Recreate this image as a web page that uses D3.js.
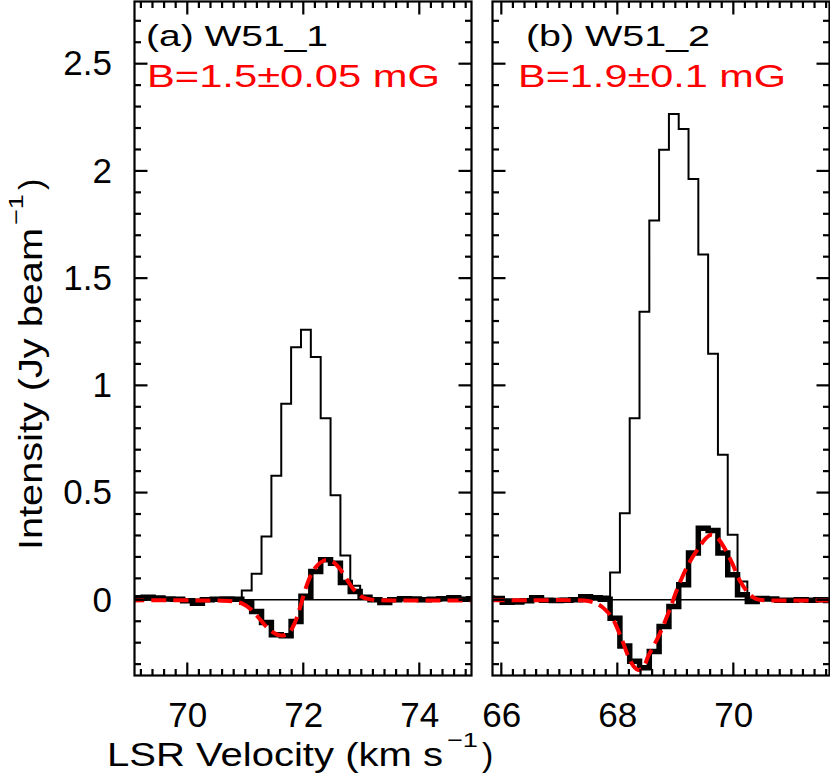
<!DOCTYPE html>
<html><head><meta charset="utf-8">
<script src="https://cdn.jsdelivr.net/npm/d3@7"></script>
<style>body{margin:0;background:#fff}svg{display:block}</style>
</head><body>
<svg id="chart" width="830" height="776"></svg>
<script>
// ---------- DATA ----------
// Panel (a) W51_1 : channel centre velocities (km/s)
const velA = [68.985,69.155,69.325,69.495,69.665,69.835,70.005,70.175,70.345,70.515,70.685,70.855,
  71.025,71.195,71.365,71.535,71.705,71.875,72.045,72.215,72.385,72.555,72.725,72.895,
  73.065,73.235,73.405,73.575,73.745,73.915,74.085,74.255,74.425,74.595,74.765,74.935];
const stokesIA = [0.002,0.003,0.000,0.004,0.002,0.000,0.003,0.001,0.002,0.003,0.004,0.008,
  0.043,0.121,0.295,0.578,0.914,1.178,1.259,1.132,0.847,0.487,0.207,0.065,
  0.005,0.003,0.002,0.001,0.003,0.002,0.000,0.002,0.003,0.001,0.002,0.000];
const stokesVA = [0.008,0.010,0.012,0.008,0.004,0.002,-0.004,-0.016,0.000,0.003,0.004,0.002,
  -0.012,-0.054,-0.106,-0.163,-0.168,-0.101,0.016,0.132,0.187,0.171,0.081,0.039,
  0.012,0.000,-0.013,0.000,0.005,0.004,0.000,0.003,0.005,0.010,0.003,0.005];
const fitVelA = [69.0,69.6,70.2,70.6,70.8,70.95,71.1,71.25,71.4,71.55,71.65,71.75,71.85,71.95,
  72.05,72.15,72.25,72.38,72.5,72.62,72.75,72.88,73.0,73.15,73.5,74.2,75.0];
const fitA = [-0.003,-0.002,-0.003,-0.004,-0.008,-0.018,-0.045,-0.09,-0.135,-0.162,-0.166,-0.155,-0.11,-0.03,
  0.06,0.125,0.163,0.185,0.178,0.148,0.095,0.045,0.015,0.002,-0.003,-0.003,-0.003];

// Panel (b) W51_2
const velB = [65.763,65.932,66.101,66.270,66.439,66.608,66.777,66.946,67.115,67.284,67.453,67.622,67.791,
  67.960,68.129,68.298,68.467,68.636,68.805,68.974,69.143,69.312,69.481,69.650,69.819,69.988,70.157,70.326,
  70.495,70.664,70.833,71.002,71.171,71.340,71.509,71.678];
const stokesIB = [0.004,0.003,0.002,0.001,0.003,0.002,0.004,0.003,0.005,0.006,0.012,0.008,0.015,
  0.127,0.404,0.847,1.343,1.769,2.099,2.265,2.195,1.962,1.610,1.147,0.676,0.303,0.085,0.010,
  0.004,0.003,0.002,0.001,0.002,0.000,0.001,0.002];
const stokesVB = [0.008,0.006,-0.012,-0.010,-0.004,0.010,-0.002,-0.003,-0.002,0.000,0.014,0.010,0.002,
  -0.086,-0.215,-0.286,-0.317,-0.241,-0.124,-0.031,0.070,0.218,0.334,0.323,0.218,0.117,0.023,-0.008,
  0.006,0.004,-0.002,-0.002,0.000,-0.002,0.000,-0.003];
const fitVelB = [65.8,66.5,67.2,67.5,67.66,67.8,67.93,68.08,68.19,68.28,68.36,68.45,68.53,68.62,68.71,
  68.88,69.05,69.22,69.42,69.52,69.62,69.72,69.83,69.98,70.12,70.29,70.40,70.6,71.0,71.7];
const fitB = [-0.002,-0.002,-0.002,-0.006,-0.02,-0.048,-0.093,-0.187,-0.264,-0.31,-0.327,-0.315,-0.264,-0.218,-0.171,
  -0.062,0.062,0.163,0.249,0.285,0.303,0.29,0.249,0.171,0.085,0.023,0.003,-0.003,-0.003,-0.003];

const panelNames = ["(a) W51_1","(b) W51_2"];
const fieldLabels = ["B=1.5\u00b10.05 mG","B=1.9\u00b10.1 mG"];
const xDomains = [[69.09,74.9],[65.848,71.658]];
const yDomain = [-0.353,2.79];
const xMajorA = [70,72,74], xMajorB = [66,68,70];
const yMajor = [0,0.5,1,1.5,2,2.5];
const yLabels = ["0","0.5","1","1.5","2","2.5"];

// ---------- LAYOUT ----------
const FONT = "'Liberation Sans', Arial, sans-serif";
const svg = d3.select("#chart");
const yTop = 1.5, yBot = 675.5;
const panels = [
  {x0:134.5, x1:471.5, vel:velA, I:stokesIA, V:stokesVA, fv:fitVelA, f:fitA, xt:xMajorA, name:panelNames[0], B:fieldLabels[0],
   nameX:146, nameW:182, bX:147, bW:293, dom:xDomains[0], labels:true},
  {x0:492.5, x1:829.5, vel:velB, I:stokesIB, V:stokesVB, fv:fitVelB, f:fitB, xt:xMajorB, name:panelNames[1], B:fieldLabels[1],
   nameX:526, nameW:184, bX:518, bW:268, dom:xDomains[1], labels:false}
];
const y = d3.scaleLinear().domain(yDomain).range([yBot, yTop]);
const yMinor = d3.range(-3, 28).map(k => k / 10);
const MJ = 13, MN = 6.5;

const defs = svg.append("defs");
panels.forEach((p, i) => {
  defs.append("clipPath").attr("id", "clip" + i).append("rect")
    .attr("x", p.x0).attr("y", yTop).attr("width", p.x1 - p.x0).attr("height", yBot - yTop);
  p.x = d3.scaleLinear().domain(p.dom).range([p.x0, p.x1]);
  p.xMinor = d3.range(Math.ceil(p.dom[0] * 5), Math.floor(p.dom[1] * 5) + 1).map(k => k / 5);
});

// data layers
panels.forEach((p, i) => {
  const x = p.x;
  const plot = svg.append("g").attr("clip-path", `url(#clip${i})`);
  plot.append("path").attr("d", `M${p.x0},${y(0)}H${p.x1}`)
    .attr("stroke", "#000").attr("stroke-width", 1.4).attr("fill", "none");
  const step = d3.line().x((d, j) => x(p.vel[j])).y(d => y(d)).curve(d3.curveStep);
  plot.append("path").attr("d", step(p.I)).attr("fill", "none").attr("stroke", "#000").attr("stroke-width", 2);
  plot.append("path").attr("d", step(p.V)).attr("fill", "none").attr("stroke", "#000").attr("stroke-width", 5.5);
  const smooth = d3.line().x((d, j) => x(p.fv[j])).y(d => y(d)).curve(d3.curveCatmullRom);
  plot.append("path").attr("d", smooth(p.f)).attr("fill", "none").attr("stroke", "#ff0000")
    .attr("stroke-width", 4).attr("stroke-dasharray", "15,7");
});

// frames, tick labels, panel texts
panels.forEach((p, i) => {
  const x = p.x;
  svg.append("rect").attr("x", p.x0).attr("y", yTop).attr("width", p.x1 - p.x0).attr("height", yBot - yTop)
    .attr("fill", "none").attr("stroke", "#000").attr("stroke-width", 2.2);
  const fixAxis = sel => { sel.select(".domain").remove(); sel.selectAll(".tick line").remove();
    sel.attr("font-family", FONT).attr("font-size", 35);
    sel.selectAll("text").attr("fill", "#000"); };
  svg.append("g").attr("transform", `translate(0,${yBot})`)
    .call(d3.axisBottom(x).tickValues(p.xt).tickSize(0).tickPadding(26.3).tickFormat(d3.format("d")))
    .call(fixAxis);
  if (p.labels) {
    svg.append("g").attr("transform", `translate(${p.x0},0)`)
      .call(d3.axisLeft(y).tickValues(yMajor).tickSize(0).tickPadding(22.5).tickFormat((d, j) => yLabels[j]))
      .call(fixAxis);
  }
  svg.append("text").attr("x", p.nameX).attr("y", 45.5).attr("font-family", FONT).attr("font-size", 29)
    .attr("textLength", p.nameW).attr("lengthAdjust", "spacingAndGlyphs").attr("fill", "#000").text(p.name);
  svg.append("text").attr("x", p.bX).attr("y", 87).attr("font-family", FONT).attr("font-size", 30.5)
    .attr("textLength", p.bW).attr("lengthAdjust", "spacingAndGlyphs").attr("fill", "#ff0000").text(p.B);
});

// axis titles
svg.append("text").attr("x", 107).attr("y", 766).attr("font-family", FONT).attr("font-size", 34)
  .attr("textLength", 336).attr("lengthAdjust", "spacingAndGlyphs").text("LSR Velocity (km s");
svg.append("text").attr("x", 447).attr("y", 747).attr("font-family", FONT).attr("font-size", 21)
  .attr("textLength", 31).attr("lengthAdjust", "spacingAndGlyphs").text("\u22121");
svg.append("text").attr("x", 482).attr("y", 766).attr("font-family", FONT).attr("font-size", 34).text(")");

svg.append("text").attr("transform", "translate(42,550) rotate(-90)").attr("font-family", FONT).attr("font-size", 34)
  .attr("textLength", 322).attr("lengthAdjust", "spacingAndGlyphs").text("Intensity (Jy beam");
svg.append("text").attr("transform", "translate(23,225) rotate(-90)").attr("font-family", FONT).attr("font-size", 21)
  .attr("textLength", 31).attr("lengthAdjust", "spacingAndGlyphs").text("\u22121");
svg.append("text").attr("transform", "translate(42,190) rotate(-90)").attr("font-family", FONT).attr("font-size", 34).text(")");

// inward ticks on all four sides
panels.forEach(p => {
  const x = p.x;
  const xLen = v => (p.xt.indexOf(Math.round(v * 10) / 10) >= 0 ? MJ : MN);
  const yLen = v => (yMajor.indexOf(Math.round(v * 10) / 10) >= 0 ? MJ : MN);
  const tk = svg.append("g").attr("stroke", "#000").attr("stroke-width", 2.2);
  tk.selectAll(null).data(p.xMinor).enter().append("line")
    .attr("x1", v => x(v)).attr("x2", v => x(v)).attr("y1", yBot).attr("y2", v => yBot - xLen(v));
  tk.selectAll(null).data(p.xMinor).enter().append("line")
    .attr("x1", v => x(v)).attr("x2", v => x(v)).attr("y1", yTop).attr("y2", v => yTop + xLen(v));
  tk.selectAll(null).data(yMinor).enter().append("line")
    .attr("x1", p.x0).attr("x2", v => p.x0 + yLen(v)).attr("y1", v => y(v)).attr("y2", v => y(v));
  tk.selectAll(null).data(yMinor).enter().append("line")
    .attr("x1", p.x1).attr("x2", v => p.x1 - yLen(v)).attr("y1", v => y(v)).attr("y2", v => y(v));
});
</script>
</body></html>
